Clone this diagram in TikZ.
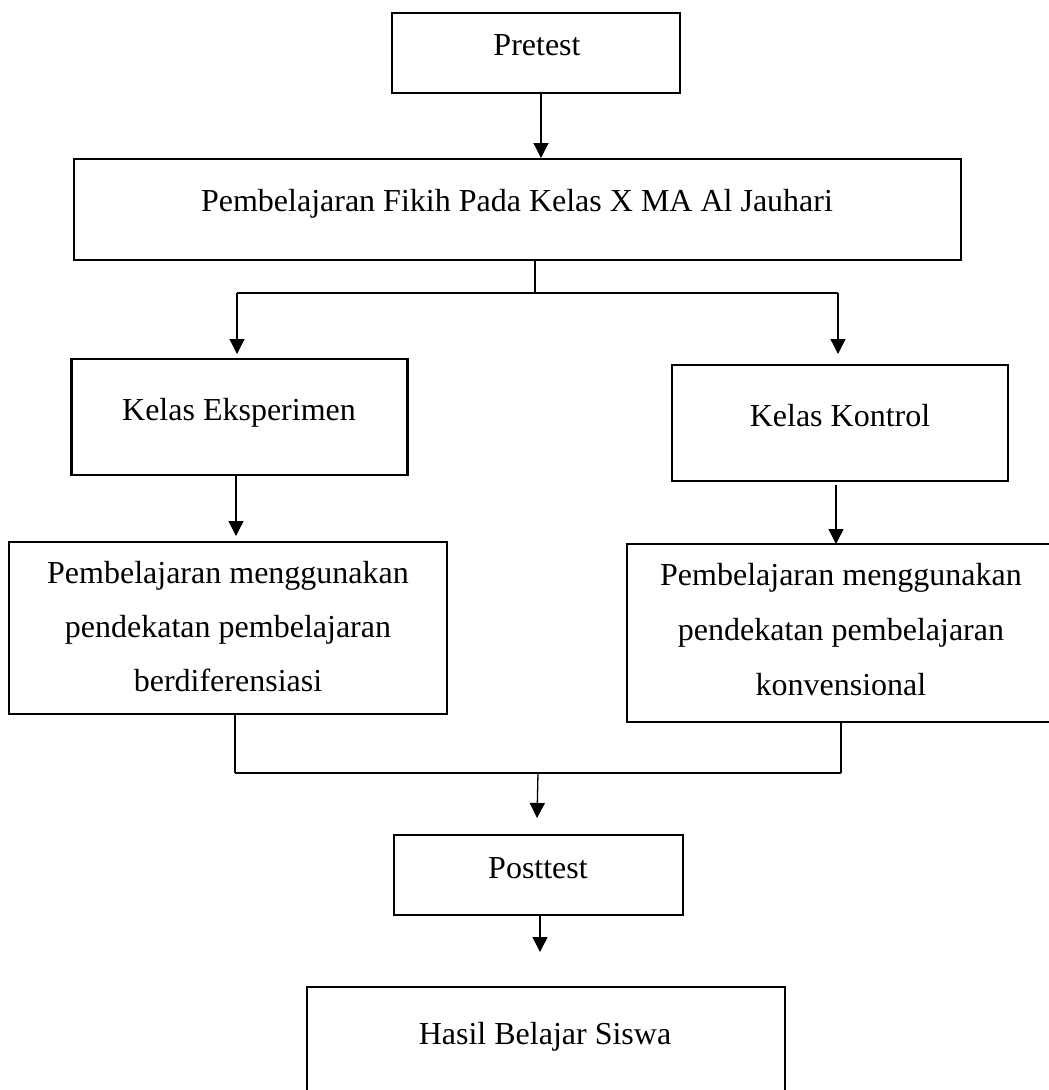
\documentclass[tikz,border=0pt]{standalone}
\usepackage{fontspec}
\setmainfont{Liberation Serif}
\usetikzlibrary{arrows.meta}
\begin{document}
\begin{tikzpicture}[x=1pt,y=-1pt,
  box/.style={draw, line width=2.2pt, inner sep=0pt, outer sep=0pt},
  txt/.style={anchor=base, inner sep=0pt, font=\fontsize{32}{38}\selectfont},
  conn/.style={line width=1.3pt},
  arr/.style={line width=1.3pt, -{Triangle[width=15pt,length=15pt]}}]
\useasboundingbox (0,0) rectangle (1049,1090);
\clip (0,0) rectangle (1049,1090);
\fill[white] (0,0) rectangle (1049,1090);

% boxes
\node[box, minimum width=288pt, minimum height=80pt]  (pre)   at (536,53) {};
\node[box, minimum width=887pt, minimum height=101pt] (fikih) at (517.5,209.5) {};
\node[box, minimum width=336pt, minimum height=116pt] (eks)   at (239.5,417) {};
\node[box, minimum width=336pt, minimum height=116pt] (kon)   at (840,423) {};
\node[box, minimum width=438pt, minimum height=172pt] (left)  at (228,628) {};
\node[box, minimum width=425pt, minimum height=178pt] (right) at (839.5,633) {};
\node[box, minimum width=289pt, minimum height=80pt]  (post)  at (538.5,875) {};
\node[box, minimum width=478pt, minimum height=113pt] (hasil) at (546,1043.5) {};

% texts
\node[txt] (tpre)   at (537,55)   {Pretest};
\node[txt] (tfikih) at (517,211)  {Pembelajaran Fikih Pada Kelas X MA Al Jauhari};
\node[txt] (teks)   at (239,420)  {Kelas Eksperimen};
\node[txt] (tkon)   at (840,426)  {Kelas Kontrol};
\node[txt] (tl1)    at (228,583)  {Pembelajaran menggunakan};
\node[txt] (tl2)    at (228,637)  {pendekatan pembelajaran};
\node[txt] (tl3)    at (228,691)  {berdiferensiasi};
\node[txt] (tr1)    at (841,585)  {Pembelajaran menggunakan};
\node[txt] (tr2)    at (841,640)  {pendekatan pembelajaran};
\node[txt] (tr3)    at (841,695)  {konvensional};
\node[txt] (tpost)  at (538,878)  {Posttest};
\node[txt] (thasil) at (545,1044) {Hasil Belajar Siswa};

% connector coordinates
\coordinate (x0) at (541,0);
\coordinate (j1) at (535,293);
\coordinate (j1l) at (237,293);
\coordinate (j1r) at (838,293);
\coordinate (x1) at (236,0);
\coordinate (x2) at (836,0);
\coordinate (j2l) at (235,773);
\coordinate (j2r) at (841,773);
\coordinate (j2) at (538,773);
\coordinate (a3) at (537,818);
\coordinate (x3) at (540,0);

% connectors
\draw[arr, shorten >=1pt] (pre.south -| x0) -- (fikih.north -| x0);
\draw[conn] (fikih.south -| j1) -- (j1);
\draw[conn] (j1l) -- (j1r);
\draw[arr, shorten >=5pt] (j1l) -- (eks.north -| j1l);
\draw[arr, shorten >=11pt] (j1r) -- (kon.north -| j1r);
\draw[arr, shorten >=6pt] (eks.south -| x1) -- (left.north -| x1);
\draw[arr, shorten <=4pt] (kon.south -| x2) -- (right.north -| x2);
\draw[conn] (left.south -| j2l) -- (j2l);
\draw[conn] (right.south -| j2r) -- (j2r);
\draw[conn] (j2l) -- (j2r);
\draw[arr] (j2) -- (a3);
\draw[arr, shorten >=35pt] (post.south -| x3) -- (hasil.north -| x3);
\end{tikzpicture}
\end{document}
